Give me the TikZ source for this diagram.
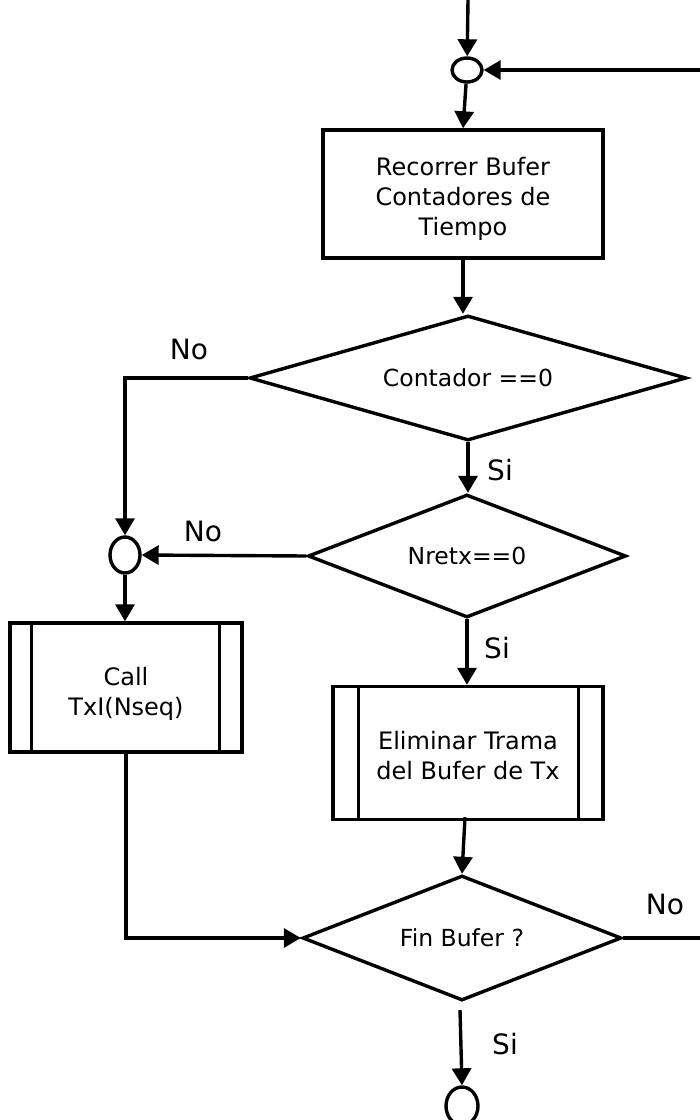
\documentclass[tikz,border=0pt]{standalone}
\usepackage{fontspec}
\setmainfont{DejaVu Sans}
\usetikzlibrary{arrows.meta,shapes.geometric}
% invisible strut that pushes a box's text down a little
\newcommand\padtop[1]{\rule{0pt}{#1}}
\begin{document}
\begin{tikzpicture}[x=1pt,y=-1pt,
  line width=3.4pt,
  arr/.style={-{Triangle[length=17pt,width=19pt]}},
  flowbox/.style={draw, rectangle, inner sep=0pt, align=center,
    font=\fontsize{24}{30}\selectfont},
  decision/.style={draw, diamond, inner sep=0pt,
    font=\fontsize{23.5}{28}\selectfont},
  joint/.style={draw, ellipse, inner sep=0pt},
  lbl/.style={font=\fontsize{28}{32}\selectfont}]
  \fill[white] (0,0) rectangle (700,1120);
  \useasboundingbox (0,0) rectangle (700,1120);
  \clip (0,0) rectangle (700,1120);

  % junctions
  \node[joint, minimum width=30pt, minimum height=24pt] (c1) at (467,70) {};
  \node[joint, minimum width=30pt, minimum height=36pt] (c2) at (125,555) {};
  \node[joint, minimum width=32pt, minimum height=38pt] (c3) at (462,1106) {};

  % process boxes
  \node[flowbox, minimum width=280pt, minimum height=128pt] (buf) at (463,194)
    {\padtop{28pt}Recorrer Bufer\\Contadores de\\Tiempo};
  \node[flowbox, minimum width=232pt, minimum height=129pt] (call) at (126,687.5)
    {\padtop{30pt}Call\\TxI(Nseq)};
  \node[flowbox, minimum width=270pt, minimum height=133pt] (elim) at (468,753)
    {\padtop{24pt}Eliminar Trama\\del Bufer de Tx};
  % side bars of the predefined processes
  \draw ([xshift=23pt]call.north west) -- ([xshift=23pt]call.south west);
  \draw ([xshift=-24pt]call.north east) -- ([xshift=-24pt]call.south east);
  \draw ([xshift=27pt]elim.north west) -- ([xshift=27pt]elim.south west);
  \draw ([xshift=-26pt]elim.north east) -- ([xshift=-26pt]elim.south east);

  % decisions
  \node[decision, shape aspect=3.5, minimum width=437pt, minimum height=125pt]
    (d1) at (468,378) {Contador ==0};
  \node[decision, shape aspect=2.6, minimum width=318pt, minimum height=123pt]
    (d2) at (467,556) {Nretx==0};
  \node[decision, shape aspect=2.55, minimum width=319pt, minimum height=125pt]
    (d3) at (462,938) {Fin Bufer ?};

  % loose ends
  \coordinate (top) at (468,0);
  \coordinate (back) at (700,70);
  \coordinate (out) at (700,938);
  \coordinate (d3s) at (460,1010);

  % connectors
  \draw[arr] (top) -- (c1);
  \draw[arr] (back) -- (c1);
  \draw[arr] (c1) -- (buf.north);
  \draw[arr] ([yshift=4pt]buf.south) -- (buf.south |- d1.north);
  \draw[arr] (d1.west) -| (c2.north);
  \draw[arr] (d1.south) -- (d1.south |- d2.north);
  \draw[arr] (d2.west) -- (c2.east);
  \draw[arr] (c2.south) -- (c2.south |- call.north);
  \draw[arr] (d2.south) -- (d2.south |- elim.north);
  \draw[arr] (call.south) |- (d3.west);
  \draw[arr] ([xshift=-3pt,yshift=4pt]elim.south) -- (d3.north);
  \draw (d3.east) -- (out);
  \draw[arr] (d3s) -- (c3.north);

  % branch labels
  \node[lbl] (n1) at (189,349) {No};
  \node[lbl] (s1) at (500,470) {Si};
  \node[lbl] (n2) at (203,531) {No};
  \node[lbl] (s2) at (497,648) {Si};
  \node[lbl] (n3) at (665,904) {No};
  \node[lbl] (s3) at (505,1044) {Si};
\end{tikzpicture}
\end{document}
